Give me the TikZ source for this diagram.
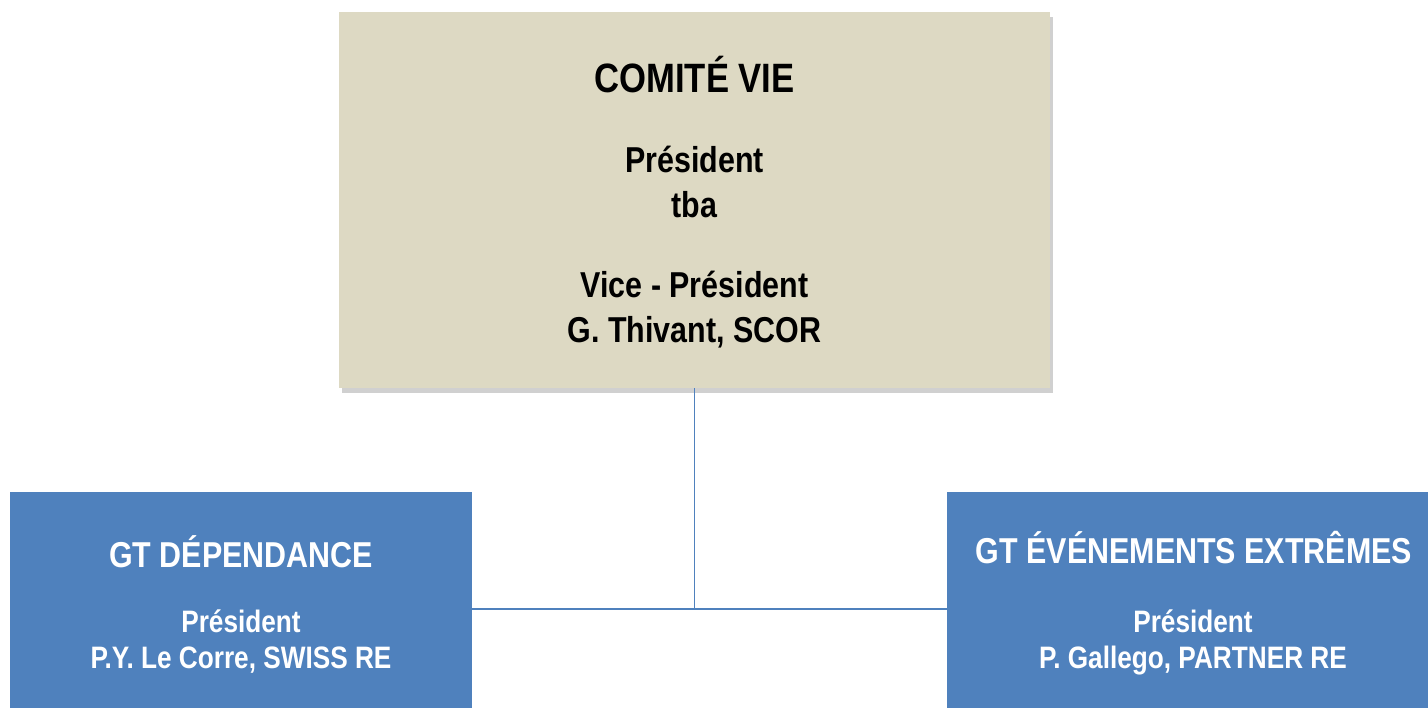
\documentclass[tikz,border=0pt]{standalone}
\usepackage{fontspec}
\setmainfont[FakeStretch=0.845]{Liberation Sans}
\usetikzlibrary{shadows}
\definecolor{beige}{HTML}{DDD9C3}
\definecolor{boxblue}{HTML}{4F81BD}
\tikzset{
  topbox/.style={rectangle, fill=beige, draw=none, minimum width=711pt, minimum height=376pt, inner sep=0pt,
    drop shadow={shadow xshift=3pt, shadow yshift=-5pt, opacity=0.3, fill=black!60}},
  bluebox/.style={rectangle, fill=boxblue, draw=none, inner sep=0pt},
  conn/.style={draw=boxblue, line width=1.6pt},
  dtxt/.style={anchor=base, inner sep=0pt, text=black, font=\bfseries\fontsize{36}{36}\selectfont},
  dtitle/.style={anchor=base, inner sep=0pt, text=black, font=\bfseries\fontsize{41}{41}\selectfont},
  wtxt/.style={anchor=base, inner sep=0pt, text=white, font=\bfseries\fontsize{31}{31}\selectfont},
  wtitle/.style={anchor=base, inner sep=0pt, text=white, font=\bfseries\fontsize{36}{36}\selectfont},
}
\begin{document}
\begin{tikzpicture}[x=1pt,y=-1pt]
\useasboundingbox (0,0) rectangle (1428,708);
\clip (0,0) rectangle (1428,708);
\fill[white] (0,0) rectangle (1428,708);
% boxes
\node[topbox] (top) at (694.5,200) {};
\node[bluebox, minimum width=462pt, minimum height=234pt] (left) at (241,609) {};
\node[bluebox, minimum width=492pt, minimum height=234pt] (right) at (1193,609) {};
% connectors
\draw[conn] (left.east) -- (right.west);
\draw[conn] (top.south) -- (top.south |- left.east);
% top texts
\node[dtitle] (t1) at (694.5,93) {COMITÉ VIE};
\node[dtxt] (t2) at (694.5,173) {Président};
\node[dtxt] (t3) at (694.5,218) {tba};
\node[dtxt] (t4) at (694.5,298) {Vice - Président};
\node[dtxt] (t5) at (694.5,343) {G. Thivant, SCOR};
% left texts
\node[wtitle] (l1) at (241,567) {GT DÉPENDANCE};
\node[wtxt] (l2) at (241,632) {Président};
\node[wtxt] (l3) at (241,668) {P.Y. Le Corre, SWISS RE};
% right texts
\node[wtitle] (r1) at (1194,563) {GT ÉVÉNEMENTS EXTRÊMES};
\node[wtxt] (r2) at (1193,632) {Président};
\node[wtxt] (r3) at (1193,668) {P. Gallego, PARTNER RE};
\end{tikzpicture}
\end{document}
